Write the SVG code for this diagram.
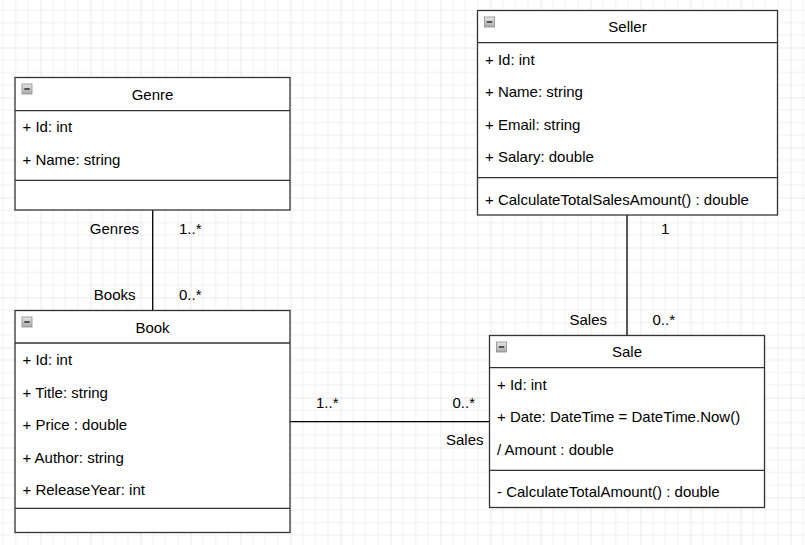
<svg xmlns="http://www.w3.org/2000/svg" width="805" height="545" viewBox="0 0 805 545">
<defs>
<pattern id="grid" patternUnits="userSpaceOnUse" x="-9.5" y="-2.5" width="50" height="50">
<rect width="50" height="50" fill="#ffffff"/>
<path d="M12.5 0V50M25 0V50M37.5 0V50M0 12.5H50M0 25H50M0 37.5H50" stroke="#f0f0f0" stroke-width="1" fill="none"/>
<path d="M0 0V50M0 0H50" stroke="#d6d6d6" stroke-width="1" fill="none"/>
</pattern>
<linearGradient id="ig" x1="0" y1="0" x2="0" y2="1">
<stop offset="0" stop-color="#e8e8e8"/>
<stop offset="1" stop-color="#a8a8a8"/>
</linearGradient>
<g id="minus">
<rect x="0" y="0" width="10" height="10" fill="url(#ig)" stroke="#8c8c8c" stroke-width="0.8"/>
<line x1="2.3" y1="5" x2="7.7" y2="5" stroke="#333333" stroke-width="1.6"/>
</g>
</defs>
<style>
.box{fill:#ffffff;stroke:#333333;stroke-width:1.3}
.sep{stroke:#333333;stroke-width:1.3;fill:none}
.conn{stroke:#000000;stroke-width:1.3;fill:none}
text{font-family:"Liberation Sans",Arial,sans-serif;font-size:15px;fill:#000000}
.t{text-anchor:middle}
.r{text-anchor:end}
</style>
<rect width="805" height="545" fill="url(#grid)"/>

<g id="connectors">
<line class="conn" x1="152.7" y1="210" x2="152.7" y2="310"/>
<line class="conn" x1="290" y1="421.7" x2="489" y2="421.7"/>
<line class="conn" x1="627" y1="215" x2="627" y2="335"/>
<text class="r" x="139" y="234">Genres</text>
<text x="179" y="234">1..*</text>
<text class="r" x="135.5" y="300">Books</text>
<text x="179" y="300">0..*</text>
<text x="316" y="408">1..*</text>
<text x="452.5" y="408">0..*</text>
<text x="446" y="445">Sales</text>
<text x="661" y="234">1</text>
<text class="r" x="607" y="325">Sales</text>
<text x="652.5" y="325">0..*</text>
</g>

<g id="genre">
<rect class="box" x="15" y="77.5" width="275" height="132.5"/>
<line class="sep" x1="15" y1="110.7" x2="290" y2="110.7"/>
<line class="sep" x1="15" y1="180.3" x2="290" y2="180.3"/>
<use href="#minus" x="22" y="84"/>
<text class="t" x="152.5" y="100">Genre</text>
<text x="22.5" y="132">+ Id: int</text>
<text x="22.5" y="165">+ Name: string</text>
</g>

<g id="seller">
<rect class="box" x="477.5" y="10.5" width="300" height="204.5"/>
<line class="sep" x1="477.5" y1="42.7" x2="777.5" y2="42.7"/>
<line class="sep" x1="477.5" y1="177.7" x2="777.5" y2="177.7"/>
<use href="#minus" x="484.5" y="17"/>
<text class="t" x="627.5" y="32">Seller</text>
<text x="485" y="65">+ Id: int</text>
<text x="485" y="97">+ Name: string</text>
<text x="485" y="130">+ Email: string</text>
<text x="485" y="162">+ Salary: double</text>
<text x="485" y="205">+ CalculateTotalSalesAmount() : double</text>
</g>

<g id="book">
<rect class="box" x="15" y="310.5" width="275" height="222"/>
<line class="sep" x1="15" y1="343" x2="290" y2="343"/>
<line class="sep" x1="15" y1="508.3" x2="290" y2="508.3"/>
<use href="#minus" x="22" y="317"/>
<text class="t" x="152.5" y="333">Book</text>
<text x="22.5" y="365">+ Id: int</text>
<text x="22.5" y="398">+ Title: string</text>
<text x="22.5" y="430">+ Price : double</text>
<text x="22.5" y="463">+ Author: string</text>
<text x="22.5" y="495">+ ReleaseYear: int</text>
</g>

<g id="sale">
<rect class="box" x="489.5" y="335.5" width="275" height="172"/>
<line class="sep" x1="489.5" y1="367.7" x2="764.5" y2="367.7"/>
<line class="sep" x1="489.5" y1="470.3" x2="764.5" y2="470.3"/>
<use href="#minus" x="496.5" y="342"/>
<text class="t" x="627" y="357">Sale</text>
<text x="497" y="390">+ Id: int</text>
<text x="497" y="422">+ Date: DateTime = DateTime.Now()</text>
<text x="497" y="455">/ Amount : double</text>
<text x="497" y="497">- CalculateTotalAmount() : double</text>
</g>
</svg>
